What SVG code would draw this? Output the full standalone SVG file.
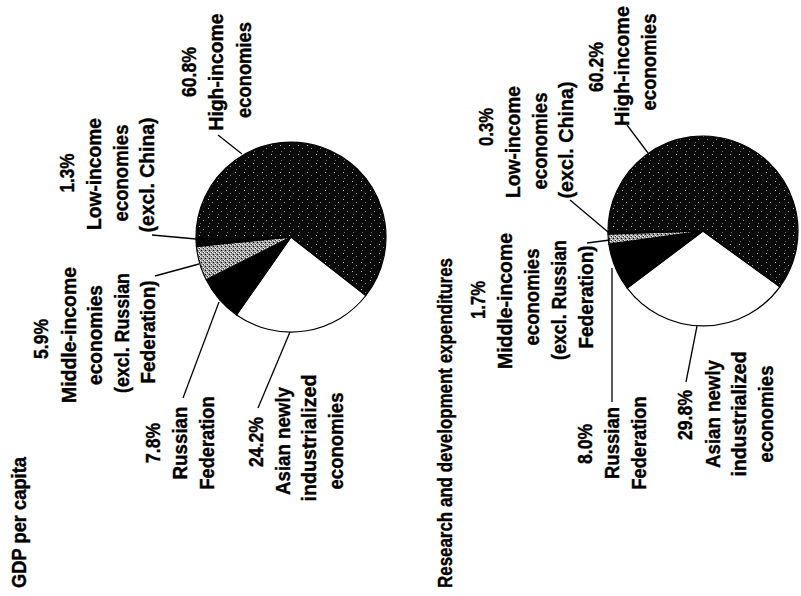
<svg xmlns="http://www.w3.org/2000/svg" width="801" height="596" viewBox="0 0 801 596">
<defs>
<pattern id="dark" width="9" height="9" patternUnits="userSpaceOnUse">
<rect width="9" height="9" fill="#0a0a0a"/>
<rect x="1" y="1" width="1" height="1" fill="#fff" opacity="0.7"/>
<rect x="5" y="4" width="1" height="1" fill="#fff" opacity="0.5"/>
<rect x="2" y="7" width="1" height="1" fill="#fff" opacity="0.4"/>
</pattern>
<pattern id="light" width="4" height="4" patternUnits="userSpaceOnUse">
<rect width="4" height="4" fill="#9a9a9a"/>
<rect x="0" y="0" width="1" height="1" fill="#fff"/>
<rect x="2" y="1" width="1" height="1" fill="#fff"/>
<rect x="1" y="2" width="1" height="1" fill="#000"/>
<rect x="3" y="3" width="1" height="1" fill="#fff"/>
<rect x="3" y="0" width="1" height="1" fill="#222"/>
</pattern>
</defs>
<style>
text{font-family:"Liberation Sans Narrow","Liberation Sans",Arial,sans-serif;font-weight:bold;font-size:21px;fill:#000;stroke:#000;stroke-width:0.4;text-anchor:middle}
.title{font-size:20px;text-anchor:start}
.sl{stroke:#000;stroke-width:1.2;stroke-linejoin:round}
.ld{stroke:#000;stroke-width:1.3;fill:none}
</style>
<rect width="801" height="596" fill="#fff"/>

<g id="title1"><text class="title" transform="translate(26,588) rotate(-90)" textLength="131" lengthAdjust="spacingAndGlyphs">GDP per capita</text></g>
<g id="title2"><text class="title" transform="translate(452,588) rotate(-90)" textLength="330" lengthAdjust="spacingAndGlyphs">Research and development expenditures</text></g>

<g id="pie1">
<path class="sl" fill="#fff" d="M291,237 L365.9,295.5 A95,95 0 0 1 236.5,314.9 Z"/>
<path class="sl" fill="#000" d="M291,237 L236.5,314.9 A95,95 0 0 1 206.2,279.8 Z"/>
<path class="sl" fill="url(#light)" d="M291,237 L206.2,279.8 A95,95 0 0 1 196.4,246.3 Z"/>
<path class="sl" fill="#000" d="M291,237 L196.4,246.3 A95,95 0 0 1 196.0,238.5 Z"/>
<path class="sl" fill="url(#dark)" d="M291,237 L196.0,238.5 A95,95 0 1 1 365.9,295.5 Z"/>
</g>
<g id="pie2">
<path class="sl" fill="#fff" d="M703,231 L779.9,286.8 A95,95 0 0 1 627.2,288.1 Z"/>
<path class="sl" fill="#000" d="M703,231 L627.2,288.1 A95,95 0 0 1 608.9,244.1 Z"/>
<path class="sl" fill="url(#light)" d="M703,231 L608.9,244.1 A95,95 0 0 1 608.0,234.0 Z"/>
<path class="sl" fill="#000" d="M703,231 L608.0,234.0 A95,95 0 0 1 608.0,232.2 Z"/>
<path class="sl" fill="url(#dark)" d="M703,231 L608.0,232.2 A95,95 0 1 1 779.9,286.8 Z"/>
</g>

<g id="connectors">
<line class="ld" x1="218" y1="135" x2="242" y2="154"/>
<line class="ld" x1="152" y1="235" x2="196" y2="239"/>
<line class="ld" x1="155" y1="276" x2="199" y2="264"/>
<line class="ld" x1="183" y1="398" x2="219" y2="302"/>
<line class="ld" x1="258" y1="408" x2="290" y2="332"/>
<line class="ld" x1="627" y1="125" x2="648" y2="153"/>
<line class="ld" x1="570" y1="200" x2="608" y2="232"/>
<line class="ld" x1="587" y1="243" x2="610" y2="240"/>
<line class="ld" x1="612" y1="268" x2="612" y2="402"/>
<line class="ld" x1="686" y1="382" x2="697" y2="326"/>
</g>

<g id="p1-high">
<text transform="translate(196,72) rotate(-90)" textLength="50" lengthAdjust="spacingAndGlyphs">60.8%</text>
<text transform="translate(223,72) rotate(-90)" textLength="117" lengthAdjust="spacingAndGlyphs">High-income</text>
<text transform="translate(251,70) rotate(-90)" textLength="96" lengthAdjust="spacingAndGlyphs">economies</text>
</g>
<g id="p1-low">
<text transform="translate(74,173) rotate(-90)" textLength="39" lengthAdjust="spacingAndGlyphs">1.3%</text>
<text transform="translate(101,174) rotate(-90)" textLength="112" lengthAdjust="spacingAndGlyphs">Low-income</text>
<text transform="translate(128,173) rotate(-90)" textLength="97" lengthAdjust="spacingAndGlyphs">economies</text>
<text transform="translate(154,175) rotate(-90)" textLength="115" lengthAdjust="spacingAndGlyphs">(excl. China)</text>
</g>
<g id="p1-middle">
<text transform="translate(48,339) rotate(-90)" textLength="40" lengthAdjust="spacingAndGlyphs">5.9%</text>
<text transform="translate(76,335) rotate(-90)" textLength="136" lengthAdjust="spacingAndGlyphs">Middle-income</text>
<text transform="translate(102,335) rotate(-90)" textLength="100" lengthAdjust="spacingAndGlyphs">economies</text>
<text transform="translate(129,333) rotate(-90)" textLength="120" lengthAdjust="spacingAndGlyphs">(excl. Russian</text>
<text transform="translate(155,332) rotate(-90)" textLength="103" lengthAdjust="spacingAndGlyphs">Federation)</text>
</g>
<g id="p1-russia">
<text transform="translate(160,443) rotate(-90)" textLength="40" lengthAdjust="spacingAndGlyphs">7.8%</text>
<text transform="translate(187,443) rotate(-90)" textLength="73" lengthAdjust="spacingAndGlyphs">Russian</text>
<text transform="translate(214,443) rotate(-90)" textLength="93" lengthAdjust="spacingAndGlyphs">Federation</text>
</g>
<g id="p1-asian">
<text transform="translate(263,442) rotate(-90)" textLength="50" lengthAdjust="spacingAndGlyphs">24.2%</text>
<text transform="translate(290,441) rotate(-90)" textLength="108" lengthAdjust="spacingAndGlyphs">Asian newly</text>
<text transform="translate(316,438) rotate(-90)" textLength="127" lengthAdjust="spacingAndGlyphs">industrialized</text>
<text transform="translate(343,441) rotate(-90)" textLength="97" lengthAdjust="spacingAndGlyphs">economies</text>
</g>

<g id="p2-high">
<text transform="translate(603,67) rotate(-90)" textLength="50" lengthAdjust="spacingAndGlyphs">60.2%</text>
<text transform="translate(629,66) rotate(-90)" textLength="120" lengthAdjust="spacingAndGlyphs">High-income</text>
<text transform="translate(656,62) rotate(-90)" textLength="97" lengthAdjust="spacingAndGlyphs">economies</text>
</g>
<g id="p2-low">
<text transform="translate(493,127) rotate(-90)" textLength="38" lengthAdjust="spacingAndGlyphs">0.3%</text>
<text transform="translate(520,142) rotate(-90)" textLength="112" lengthAdjust="spacingAndGlyphs">Low-income</text>
<text transform="translate(547,141) rotate(-90)" textLength="97" lengthAdjust="spacingAndGlyphs">economies</text>
<text transform="translate(573,140) rotate(-90)" textLength="117" lengthAdjust="spacingAndGlyphs">(excl. China)</text>
</g>
<g id="p2-middle">
<text transform="translate(485,300) rotate(-90)" textLength="38" lengthAdjust="spacingAndGlyphs">1.7%</text>
<text transform="translate(512,301) rotate(-90)" textLength="136" lengthAdjust="spacingAndGlyphs">Middle-income</text>
<text transform="translate(539,297) rotate(-90)" textLength="97" lengthAdjust="spacingAndGlyphs">economies</text>
<text transform="translate(566,300) rotate(-90)" textLength="120" lengthAdjust="spacingAndGlyphs">(excl. Russian</text>
<text transform="translate(593,297) rotate(-90)" textLength="103" lengthAdjust="spacingAndGlyphs">Federation)</text>
</g>
<g id="p2-russia">
<text transform="translate(592,444) rotate(-90)" textLength="40" lengthAdjust="spacingAndGlyphs">8.0%</text>
<text transform="translate(619,443) rotate(-90)" textLength="72" lengthAdjust="spacingAndGlyphs">Russian</text>
<text transform="translate(646,443) rotate(-90)" textLength="93" lengthAdjust="spacingAndGlyphs">Federation</text>
</g>
<g id="p2-asian">
<text transform="translate(692,415) rotate(-90)" textLength="50" lengthAdjust="spacingAndGlyphs">29.8%</text>
<text transform="translate(720,414) rotate(-90)" textLength="108" lengthAdjust="spacingAndGlyphs">Asian newly</text>
<text transform="translate(746,414) rotate(-90)" textLength="125" lengthAdjust="spacingAndGlyphs">industrialized</text>
<text transform="translate(773,414) rotate(-90)" textLength="97" lengthAdjust="spacingAndGlyphs">economies</text>
</g>
</svg>
